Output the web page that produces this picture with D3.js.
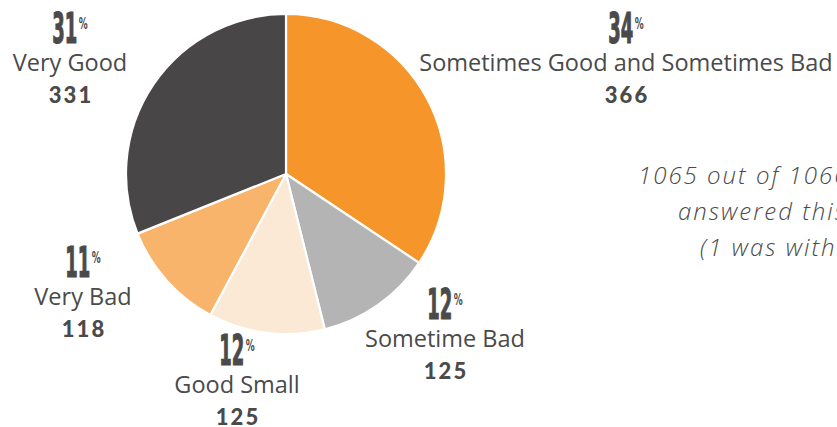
<!DOCTYPE html>
<html>
<head>
<meta charset="utf-8">
<script src="https://cdn.jsdelivr.net/npm/d3@7"></script>
<style>
  html, body { margin: 0; padding: 0; background: #fff; }
  svg { display: block; }
</style>
</head>
<body>
<svg id="chart" width="837" height="427"></svg>
<script>
// ---- data ----
const categories = ["Sometimes Good and Sometimes Bad", "Sometime Bad", "Good Small", "Very Bad", "Very Good"];
const counts = [366, 125, 125, 118, 331];
const colors = ["#F6962A", "#B4B4B4", "#FBE9D6", "#F8B46B", "#484647"];
const noteLines = ["1065 out of 1066 respondents", "answered this question", "(1 was without answer)"];

// ---- label layout (text anchors: centre x, percent baseline y) ----
const labelPos = [[626, 43], [445, 319], [237, 365], [83, 277], [70, 43]];

const svg = d3.select("#chart");
const cx = 286, cy = 174, R = 160;
const textColor = "#4a4a4a";

const total = d3.sum(counts);
const data = categories.map((c, i) => ({ name: c, value: counts[i], color: colors[i] }));

const pie = d3.pie().value(d => d.value).sort(null).startAngle(0).endAngle(2 * Math.PI);
const arc = d3.arc().innerRadius(0).outerRadius(R);

const g = svg.append("g").attr("transform", `translate(${cx},${cy})`);
g.selectAll("path")
  .data(pie(data))
  .join("path")
  .attr("d", arc)
  .attr("fill", d => d.data.color)
  .attr("stroke", "#fff")
  .attr("stroke-width", 2.2)
  .attr("stroke-linejoin", "round");

// ---- labels ----
data.forEach((d, i) => {
  const [x, B] = labelPos[i];
  const pct = Math.round(d.value / total * 100);

  const pg = svg.append("g");
  const sx = 0.47;
  const num = pg.append("text")
    .attr("font-family", "'DejaVu Sans Condensed', 'DejaVu Sans', sans-serif")
    .attr("font-weight", "bold")
    .attr("font-size", 42.5)
    .attr("fill", textColor)
    .attr("stroke", textColor)
    .attr("stroke-width", 1.2)
    .attr("transform", `scale(${sx},1)`)
    .text(pct);
  const w = num.node().getComputedTextLength() * sx;
  const ps = pg.append("text")
    .attr("font-family", "'DejaVu Sans Condensed', 'DejaVu Sans', sans-serif")
    .attr("font-weight", "bold")
    .attr("font-size", 16)
    .attr("fill", textColor)
    .attr("transform", `translate(${w + 1.5},-14) scale(0.62,1)`)
    .text("%");
  const wp = ps.node().getComputedTextLength() * 0.62;
  const tw = w + 1.5 + wp;
  pg.attr("transform", `translate(${x - tw / 2},${B})`);

  svg.append("text")
    .attr("x", x).attr("y", B + 28)
    .attr("text-anchor", "middle")
    .attr("font-family", "'Open Sans', Lato, sans-serif")
    .attr("font-size", 23.5)
    .attr("fill", textColor)
    .text(d.name);

  svg.append("text")
    .attr("x", x + 1).attr("y", B + 60)
    .attr("text-anchor", "middle")
    .attr("font-family", "Lato, 'Open Sans', sans-serif")
    .attr("font-weight", 900)
    .attr("font-size", 22)
    .attr("letter-spacing", 2)
    .attr("fill", textColor)
    .text(d.value);
});

// ---- note ----
const noteX = [638, 678, 700];
noteLines.forEach((t, i) => {
  svg.append("text")
    .attr("x", noteX[i]).attr("y", 184 + i * 36)
    .attr("font-family", "'Open Sans', Lato, sans-serif")
    .attr("font-style", "italic")
    .attr("font-weight", 300)
    .attr("font-size", 24)
    .attr("letter-spacing", 2)
    .attr("fill", textColor)
    .text(t);
});
</script>
</body>
</html>
